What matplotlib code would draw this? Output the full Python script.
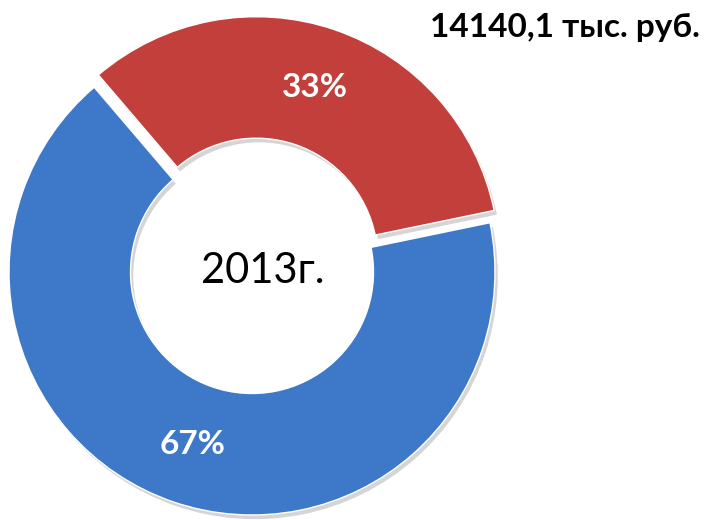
import matplotlib
matplotlib.use('Agg')
import matplotlib.pyplot as plt
import matplotlib.patheffects as pe

# data
labels = ['blue', 'red']
shares = [67, 33]
colors = ['#3d79c8', '#c33f3b']
year_label = '2013г.'
total_label = '14140,1 тыс. руб.'

plt.rcParams['font.family'] = ['Lato', 'DejaVu Sans']

fig = plt.figure(figsize=(7.04, 5.2), dpi=100)
ax = fig.add_axes([0, 0, 1, 1])

# geometry in pixel coords (y up)
cx, cy, R = 252, 248, 243

# explode is in data units for ax.pie
wedges, texts, autotexts = ax.pie(
    shares, colors=colors, explode=[0, 13], startangle=130.5,
    counterclock=True, radius=R, center=(cx, cy),
    autopct=lambda p: f'{round(p)}%', pctdistance=0.75,
    wedgeprops=dict(width=R * 0.5, linewidth=1.0, edgecolor='white'),
    textprops=dict(color='white', fontsize=24, fontweight='bold'))

for w in wedges:
    w.set_path_effects([pe.SimplePatchShadow(offset=(2, -3), shadow_rgbFace='#888888', alpha=0.35),
                        pe.Normal()])

ax.text(cx + 11, cy + 1, year_label, ha='center', va='center', fontsize=30, color='black')
ax.text(565, 493, total_label, ha='center', va='center', fontsize=24, fontweight='bold', color='black')

ax.set_xlim(0, 704)
ax.set_ylim(0, 520)
ax.set_aspect('equal')
ax.axis('off')

fig.savefig('out.png', dpi=100)
